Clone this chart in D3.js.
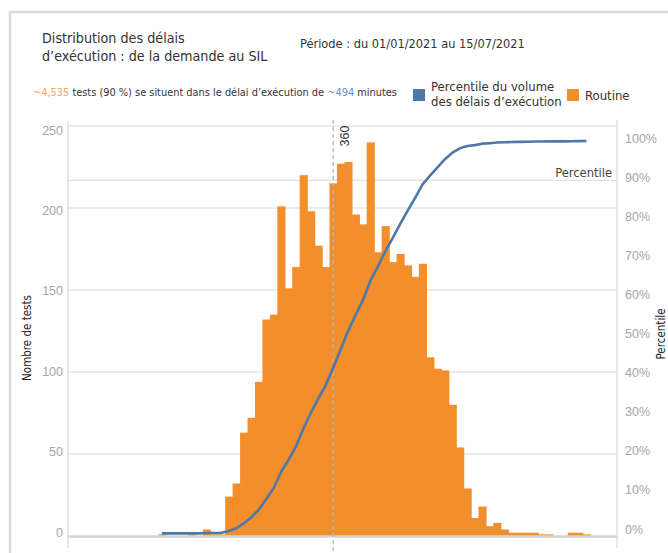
<!DOCTYPE html>
<html>
<head>
<meta charset="utf-8">
<script src="https://cdn.jsdelivr.net/npm/d3@7"></script>
<style>
  body { margin: 0; background: #fff; }
  svg { display: block; font-family: "DejaVu Sans Condensed", "Liberation Sans Narrow", sans-serif; }
</style>
</head>
<body>
<svg id="chart" width="668" height="553"></svg>
<script>
// delay bins (minutes, centre of each 10 min bin)
const delays = [130, 140, 150, 160, 170, 180, 190, 200, 210, 220, 230, 240, 250, 260, 270, 280, 290, 300,
  310, 320, 330, 340, 350, 360, 370, 380, 390, 400, 410, 420, 430, 440, 450, 460, 470, 480, 490, 500,
  510, 520, 530, 540, 550, 560, 570, 580, 590, 600, 610, 620, 630, 640, 650, 660, 670, 680, 690, 700];
// number of routine tests per bin
const routine = [1, 0, 0, 0, 1, 0, 4, 1, 1, 24, 32, 63, 72, 94, 132, 135, 201, 151,
  164, 220, 198, 177, 164, 215, 227, 228, 196, 190, 240, 173, 189, 167, 172, 165, 158, 166, 109, 102,
  101, 80, 54, 29, 11, 18, 6, 8, 4, 2, 2, 2, 2, 1, 1, 0, 0, 2, 2, 1];

const countTicks = [0, 50, 100, 150, 200, 250];
const pctTicks = [0, 0.1, 0.2, 0.3, 0.4, 0.5, 0.6, 0.7, 0.8, 0.9, 1];
const markerDelay = 360;   // dashed reference line
const percentileRef = 0.9; // "Percentile" reference line

const orange = "#f28e2b", blue = "#4e79a7", grid = "#d9d9d9", tickGrey = "#a6a6a6", ink = "#333";

const svg = d3.select("#chart");

// frame around the sheet
svg.append("rect")
  .attr("x", 10).attr("y", 12).attr("width", 720).attr("height", 620)
  .attr("fill", "none").attr("stroke", "#dcdcdc").attr("stroke-width", 2.5);

const x = d3.scaleLinear().domain([4, 741]).range([68, 617]);
const y = d3.scaleLinear().domain([0, 250]).range([536, 126]);
const yPct = d3.scaleLinear().domain([0, 1]).range([533.5, 141]);
// tick labels sit slightly off the gridlines in the original
const yLab = d3.scaleLinear().domain([0, 250]).range([532, 130]);
const yPctLab = d3.scaleLinear().domain([0, 1]).range([529, 138]);

const bins = delays.map((d, i) => ({ delay: d, n: routine[i] }));
const total = d3.sum(routine);
const cum = d3.cumsum(routine);
bins.forEach((b, i) => b.pct = cum[i] / total);

// gridlines
svg.append("g")
  .selectAll("line")
  .data(countTicks.filter(d => d > 0))
  .join("line")
  .attr("x1", 68).attr("x2", 617)
  .attr("y1", d => y(d)).attr("y2", d => y(d))
  .attr("stroke", grid).attr("stroke-width", 1.2);

svg.append("line")
  .attr("x1", 68).attr("x2", 617)
  .attr("y1", yPct(percentileRef)).attr("y2", yPct(percentileRef))
  .attr("stroke", grid).attr("stroke-width", 1.2);

// axis lines
svg.append("line").attr("x1", 68).attr("x2", 68).attr("y1", 121).attr("y2", 548)
  .attr("stroke", grid).attr("stroke-width", 1.2);
svg.append("line").attr("x1", 617).attr("x2", 617).attr("y1", 120).attr("y2", 548)
  .attr("stroke", grid).attr("stroke-width", 1.2);

// bars
svg.append("g")
  .selectAll("rect")
  .data(bins.filter(d => d.n > 0))
  .join("rect")
  .attr("x", d => x(d.delay - 5))
  .attr("width", d => x(d.delay + 5) - x(d.delay - 5) + 0.7)
  .attr("y", d => y(d.n))
  .attr("height", d => y(0) - y(d.n))
  .attr("fill", orange);

// baseline
svg.append("line").attr("x1", 68).attr("x2", 617).attr("y1", y(0) + 0.5).attr("y2", y(0) + 0.5)
  .attr("stroke", "#d3d3d3").attr("stroke-width", 2.5);

// 360 min dashed marker
svg.append("line")
  .attr("x1", x(markerDelay)).attr("x2", x(markerDelay))
  .attr("y1", 120).attr("y2", 553)
  .attr("stroke", "#b5b5b5").attr("stroke-width", 1.3)
  .attr("stroke-dasharray", "4,3");
svg.append("text")
  .attr("transform", `translate(${x(markerDelay) + 16},136) rotate(-90)`)
  .attr("text-anchor", "middle")
  .attr("font-family", "Liberation Sans, sans-serif")
  .attr("font-size", 12.5).attr("fill", ink)
  .text(markerDelay);

// percentile line
svg.append("path")
  .datum(bins)
  .attr("fill", "none")
  .attr("stroke", blue)
  .attr("stroke-width", 2.6)
  .attr("stroke-linejoin", "round")
  .attr("d", d3.line().x(d => x(d.delay)).y(d => yPct(d.pct)));

svg.append("text")
  .attr("x", 612).attr("y", 173).attr("dy", "0.35em")
  .attr("text-anchor", "end").attr("font-size", 12.8).attr("fill", "#444")
  .text("Percentile");

// tick labels
const leftAxis = svg.append("g")
  .attr("transform", "translate(63,0)")
  .call(d3.axisLeft(yLab).tickValues(countTicks).tickSize(0).tickPadding(0));
leftAxis.select(".domain").remove();
leftAxis.selectAll("text")
  .attr("font-family", "Liberation Sans, sans-serif").attr("font-size", 12.5).attr("fill", tickGrey);

const rightAxis = svg.append("g")
  .attr("transform", "translate(625,0)")
  .call(d3.axisRight(yPctLab).tickValues(pctTicks).tickFormat(d3.format(".0%")).tickSize(0).tickPadding(0));
rightAxis.select(".domain").remove();
rightAxis.selectAll("text")
  .attr("font-family", "Liberation Sans, sans-serif").attr("font-size", 12.5).attr("fill", tickGrey);

// axis titles
svg.append("text")
  .attr("transform", "translate(27,338) rotate(-90)")
  .attr("text-anchor", "middle").attr("dy", "0.35em")
  .attr("font-size", 11.5).attr("fill", "#222")
  .text("Nombre de tests");
svg.append("text")
  .attr("transform", "translate(661,334) rotate(-90)")
  .attr("text-anchor", "middle").attr("dy", "0.35em")
  .attr("font-size", 11.5).attr("fill", "#222")
  .text("Percentile");

// header
const head = svg.append("g").attr("fill", ink);
head.append("text").attr("x", 42).attr("y", 38).attr("dy", "0.35em").attr("font-size", 14.2)
  .text("Distribution des délais");
head.append("text").attr("x", 42).attr("y", 56).attr("dy", "0.35em").attr("font-size", 14.2)
  .text("d’exécution : de la demande au SIL");
head.append("text").attr("x", 300).attr("y", 44).attr("dy", "0.35em").attr("font-size", 12.7)
  .text("Période : du 01/01/2021 au 15/07/2021");

const note = svg.append("text").attr("x", 33).attr("y", 92).attr("dy", "0.35em")
  .attr("font-size", 10.9).attr("fill", ink);
note.append("tspan").attr("fill", "#f5a55c").text("~4,535");
note.append("tspan").text(" tests (90 %) se situent dans le délai d’exécution de ");
note.append("tspan").attr("fill", "#6a8fc0").text("~494");
note.append("tspan").text(" minutes");

// legend
const legend = [
  { color: blue, x: 413, lines: ["Percentile du volume", "des délais d’exécution"] },
  { color: orange, x: 567, lines: ["Routine"] }
];
const lg = svg.append("g").selectAll("g").data(legend).join("g");
lg.append("rect")
  .attr("x", d => d.x).attr("y", 89).attr("width", 12).attr("height", 12)
  .attr("fill", d => d.color);
lg.append("text")
  .attr("font-size", 13).attr("fill", ink)
  .selectAll("tspan")
  .data(d => d.lines.map((t, i) => ({ t, i, n: d.lines.length, x: d.x })))
  .join("tspan")
  .attr("x", d => d.x + 18)
  .attr("y", d => d.n === 1 ? 95 : 86 + d.i * 15)
  .attr("dy", "0.35em")
  .text(d => d.t);
</script>
</body>
</html>
